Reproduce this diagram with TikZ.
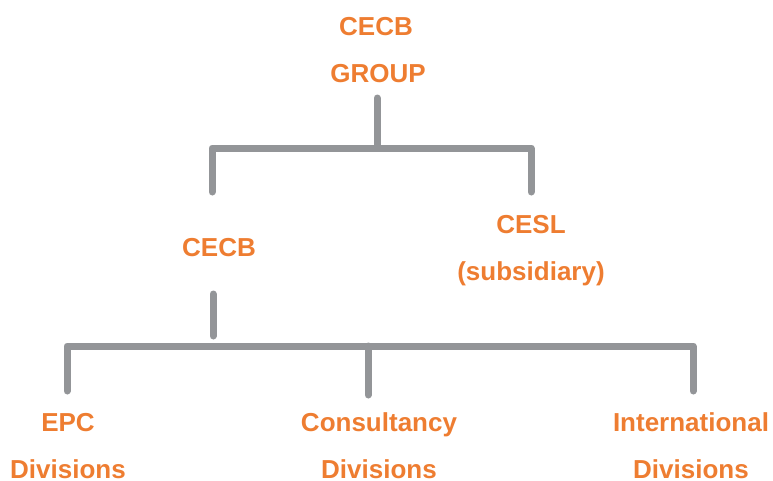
\documentclass[tikz,border=0pt]{standalone}
\usepackage{fontspec}
\setmainfont{Liberation Sans}
\definecolor{orgorange}{HTML}{EE7D31}
\definecolor{orggray}{HTML}{939598}
\begin{document}
\begin{tikzpicture}[x=1pt,y=-1pt,
  lbl/.style={font=\fontsize{26}{30}\selectfont\bfseries, text=orgorange, anchor=base, inner sep=0pt},
  conn/.style={draw=orggray, line width=7pt, line cap=round, line join=round}]
\useasboundingbox (0,0) rectangle (773,480);
% labels
\node[lbl] (grp1) at (376,35) {CECB};
\node[lbl] (grp2) at (378,82) {GROUP};
\node[lbl] (cecb) at (219,256) {CECB};
\node[lbl] (cesl1) at (531,233) {CESL};
\node[lbl] (cesl2) at (531,280) {(subsidiary)};
\node[lbl] (epc1) at (68,431) {EPC};
\node[lbl] (epc2) at (68,478.5) {Divisions};
\node[lbl] (con1) at (379,431) {Consultancy};
\node[lbl] (con2) at (379,478.5) {Divisions};
\node[lbl] (int1) at (691,431) {International};
\node[lbl] (int2) at (691,478.5) {Divisions};
% connector points
\coordinate (t0) at (377,98);
\coordinate (t1) at (377,145);
\coordinate (tl) at (212,148);
\coordinate (tr) at (531,148);
\coordinate (tle) at (212,192);
\coordinate (tre) at (531,192);
\coordinate (m0) at (213,294);
\coordinate (m1) at (213,336);
\coordinate (bl) at (67,346);
\coordinate (bm) at (368,346);
\coordinate (br) at (693,346);
\coordinate (ble) at (67,391);
\coordinate (bme) at (368,395);
\coordinate (bre) at (693,391);
\draw[conn] (t0) -- (t1);
\draw[conn] (tle) -- (tl) -- (tr) -- (tre);
\draw[conn] (m0) -- (m1);
\draw[conn] (ble) -- (bl) -- (br) -- (bre);
\draw[conn] (bm) -- (bme);
\end{tikzpicture}
\end{document}
